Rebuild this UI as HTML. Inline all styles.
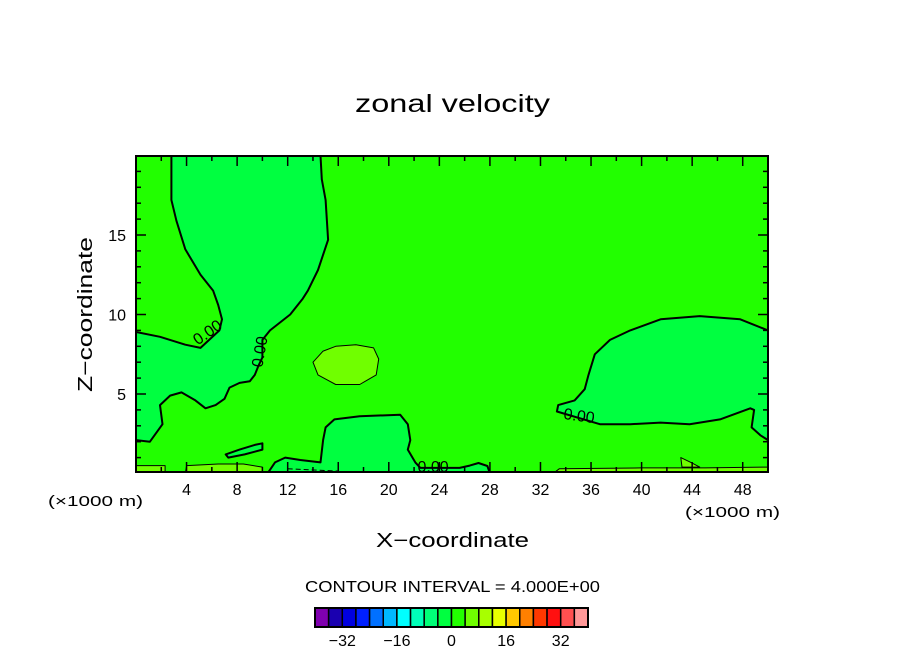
<!DOCTYPE html>
<html><head><meta charset="utf-8"><style>
body{margin:0;background:#fff;}
svg text{font-family:"Liberation Sans","DejaVu Sans",sans-serif;fill:#000;}
</style></head><body>
<svg id="chart" width="904" height="654" viewBox="0 0 904 654" xmlns="http://www.w3.org/2000/svg">
<text x="355" y="112" font-size="25" textLength="195" lengthAdjust="spacingAndGlyphs">zonal velocity</text>
<g id="plot"></g>
<g id="axes"></g>
<text x="376" y="547" font-size="20" textLength="153" lengthAdjust="spacingAndGlyphs">X−coordinate</text>
<text transform="translate(92,392) rotate(-90)" font-size="20" textLength="155" lengthAdjust="spacingAndGlyphs">Z−coordinate</text>
<text x="48" y="506" font-size="15" textLength="95" lengthAdjust="spacingAndGlyphs">(×1000 m)</text>
<text x="685" y="517" font-size="15" textLength="95" lengthAdjust="spacingAndGlyphs">(×1000 m)</text>
<text x="305" y="592" font-size="16" textLength="295" lengthAdjust="spacingAndGlyphs">CONTOUR INTERVAL = 4.000E+00</text>
<g id="cbar"></g>
</svg>
<script>
const xTicks=[4,8,12,16,20,24,28,32,36,40,44,48];
const zTicks=[5,10,15];
const cbarLevels=[-40,-36,-32,-28,-24,-20,-16,-12,-8,-4,0,4,8,12,16,20,24,28,32,36,40];
const cbarColors=["#8000b0","#1a00b0","#0000e0","#0020ff","#0070ff","#00b8ff","#00ffff","#00ffb8","#00ff78","#00ff40","#22ff00","#70ff00","#a8ff00","#e8ff00","#ffc800","#ff8000","#ff3800","#ff1010","#ff5050","#ff9898"];
const cbarLabels=[-32,-16,0,16,32];
const negLeft=[[2.8,20],[2.8,17.2],[3.2,15.9],[3.9,14.1],[5.1,12.5],[6.1,11.5],[6.5,10.6],[6.8,9.7],[6.6,9.0],[5.1,7.9],[3.9,8.1],[1.9,8.6],[0,8.9],[0,2.1],[1.1,2.0],[2.1,3.1],[1.9,4.3],[2.7,4.9],[3.6,5.1],[4.7,4.6],[5.5,4.1],[6.3,4.3],[7.0,4.7],[7.4,5.4],[8.2,5.7],[9.0,5.8],[9.4,6.2],[9.7,6.8],[10.0,7.3],[10.0,8.4],[10.6,9.0],[12.2,10.0],[13.2,11.0],[13.6,11.5],[14.4,12.8],[15.2,14.7],[15.0,17.2],[14.7,18.5],[14.6,20]];
const negRight=[[50,9.0],[47.8,9.7],[44.6,9.9],[41.5,9.7],[39.1,9.0],[37.5,8.4],[36.3,7.5],[35.8,6.2],[35.5,5.3],[34.7,4.6],[33.4,4.3],[33.3,3.9],[36.7,3.1],[39.1,3.1],[41.5,3.2],[43.8,3.1],[46.2,3.4],[48.6,4.1],[48.9,4.0],[48.7,2.9],[49.4,2.4],[50,2.1]];
const negMid=[[10.4,0],[11.0,0.7],[11.8,1.0],[13.0,0.85],[14.6,0.7],[14.8,2.1],[15.0,2.9],[15.7,3.4],[17.7,3.6],[20.9,3.7],[21.5,3.1],[21.7,2.1],[21.5,1.5],[22.1,0.7],[22.5,0.35],[25.6,0.35],[26.4,0.5],[27.1,0.66],[27.8,0.47],[28.0,0]];
const negSmall=[[7.1,1.2],[8.2,1.5],[9.4,1.8],[10.0,1.9],[10.0,1.5],[8.6,1.2],[7.3,1.0]];
const posOval=[[14.0,7.0],[14.4,6.2],[15.8,5.6],[17.7,5.6],[19.0,6.2],[19.2,7.2],[18.8,7.9],[17.4,8.1],[15.8,8.0],[14.8,7.7]];
const posStrip1=[[0,0],[0,0.5],[2.3,0.5],[2.3,0]];
const posStrip2=[[3.9,0],[4.0,0.5],[6.5,0.6],[8.5,0.6],[10.0,0.4],[10.0,0]];
const posStrip3=[[33.0,0],[33.5,0.3],[40,0.35],[45,0.35],[50,0.4],[50,0]];
const posBlob=[[43.1,1.0],[43.9,0.7],[44.6,0.4],[43.2,0.4]];
const contourLabels=[[5.9,8.6,"0.00",-35],[10.2,7.6,"0.00",-80],[35.0,3.3,"0.00",8],[23.5,0.1,"0.00",0]];

const NS="http://www.w3.org/2000/svg";
const L=136,R=768,T=156,B=472;
const X=k=>L+k*(R-L)/50;
const Z=z=>473.5-z*15.9;
function el(tag,attrs,parent){const e=document.createElementNS(NS,tag);for(const a in attrs)e.setAttribute(a,attrs[a]);parent.appendChild(e);return e;}
const plot=document.getElementById('plot');
const clip=el('clipPath',{id:'pc'},plot);el('rect',{x:L,y:T,width:R-L,height:B-T},clip);
const bg=el('rect',{x:L,y:T,width:R-L,height:B-T,fill:"#22ff00"},plot);


const g=el('g',{'clip-path':'url(#pc)'},plot);
function poly(pts,fill,name,line){
  const d=pts.map((p,i)=>(i?'L':'M')+X(p[0]).toFixed(1)+','+Z(p[1]).toFixed(1)).join('')+'Z';
  const p=el('path',{d:d,fill:fill,stroke:'#000',"stroke-width":line?2:1,"stroke-linejoin":"round"},g);
  
  
}
poly(negLeft,"#00ff40","negative-region-left",true);
poly(negRight,"#00ff40","negative-region-right",true);
poly(negMid,"#00ff40","negative-region-bottom",true);
poly(negSmall,"#00ff40","negative-region-small",true);
poly(posOval,"#70ff00","positive-patch-center",false);
poly(posStrip1,"#70ff00","positive-strip-1",false);
poly(posStrip2,"#70ff00","positive-strip-2",false);
poly(posStrip3,"#70ff00","positive-strip-3",false);
poly(posBlob,"#70ff00","positive-blob",false);
const dl=el('path',{d:`M${X(12)},${Z(0.3)}L${X(16)},${Z(0.15)}`,stroke:'#000','stroke-dasharray':'5,3',fill:'none'},g);


contourLabels.forEach(c=>{
  const t=el('text',{x:X(c[0]),y:Z(c[1]),'font-size':16,'text-anchor':'middle',transform:`rotate(${c[3]},${X(c[0])},${Z(c[1])})`},g);
  t.textContent=c[2];
  
  
});
const axes=document.getElementById('axes');
const fr=el('rect',{x:L,y:T,width:R-L,height:B-T,fill:'none',stroke:'#000','stroke-width':2},axes);


for(let k=2;k<50;k+=2){const len=(k%4===0)?10:5;
  el('line',{x1:X(k),x2:X(k),y1:B,y2:B-len,stroke:'#000','stroke-width':1.5},axes);
  el('line',{x1:X(k),x2:X(k),y1:T,y2:T+len,stroke:'#000','stroke-width':1.5},axes);}
for(let z=1;z<20;z++){const len=(z%5===0)?10:5;
  el('line',{x1:L,x2:L+len,y1:Z(z),y2:Z(z),stroke:'#000','stroke-width':1.5},axes);
  el('line',{x1:R,x2:R-len,y1:Z(z),y2:Z(z),stroke:'#000','stroke-width':1.5},axes);}
xTicks.forEach(k=>{const t=el('text',{x:X(k),y:495,'text-anchor':'middle','font-size':16},axes);t.textContent=k;
  
  });
zTicks.forEach(z=>{const t=el('text',{x:126,y:Z(z)+6,'text-anchor':'end','font-size':16},axes);t.textContent=z;
  
  });
const cb=document.getElementById('cbar');
const cx0=315,cx1=588,cy=608,ch=19,cw=(cx1-cx0)/cbarColors.length;
const CX=v=>cx0+(v-cbarLevels[0])/(cbarLevels[cbarLevels.length-1]-cbarLevels[0])*(cx1-cx0);
cbarColors.forEach((c,i)=>{const r=el('rect',{x:CX(cbarLevels[i]),y:cy,width:cw,height:ch,fill:c,stroke:'#000','stroke-width':1.5},cb);
  
  });
el('rect',{x:cx0,y:cy,width:cx1-cx0,height:ch,fill:'none',stroke:'#000','stroke-width':2},cb);
cbarLabels.forEach(v=>{const t=el('text',{x:CX(v),y:646,'text-anchor':'middle','font-size':16},cb);t.textContent=(v<0?'−'+(-v):v);
  
  });
</script>
</body></html>
